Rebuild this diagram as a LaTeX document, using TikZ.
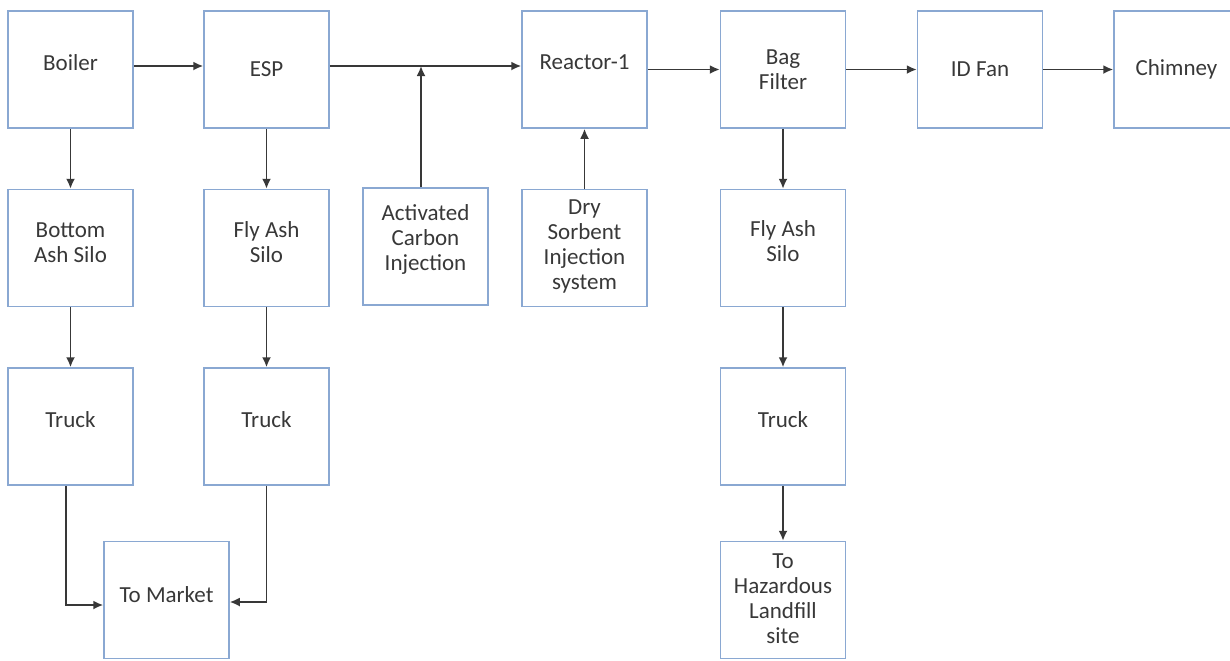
\documentclass[tikz,border=0pt]{standalone}
\usepackage{fontspec}
\setmainfont{Carlito}
\usetikzlibrary{arrows.meta,positioning}
\definecolor{boxblue}{HTML}{8AA8D2}
\definecolor{inkgrey}{HTML}{383838}
\tikzset{flowarrow/.style={draw=inkgrey,line width=.9pt,-{Latex[length=5pt,width=4.5pt]}}}

\begin{document}
\begin{tikzpicture}[x=.5pt,y=-.5pt,node distance=30pt and 30pt]

\tikzset{unitbox/.style={draw=boxblue,line width=.75pt,minimum width=62.5pt,minimum height=58.5pt,inner sep=0pt},
boxtext/.style={align=center,text=inkgrey,font=\fontsize{11.5}{12.5}\selectfont,inner sep=0pt}}

\useasboundingbox (0,0) rectangle (1230,660);

% Main gas path
\node[unitbox,label={[boxtext,yshift=3.5pt]center:Boiler}] (boiler) at (70.5,69.5) {};
\node[unitbox,label={[boxtext]center:ESP}] (esp) at (266.5,69.5) {};
\node[unitbox,label={[boxtext,yshift=3.5pt]center:Reactor-1}] (reactor) at (584.5,69.5) {};
\node[unitbox,label={[boxtext]center:Bag\\Filter}] (bagfilter) at (783,69.5) {};
\node[unitbox,label={[boxtext]center:ID Fan}] (idfan) at (980,69.5) {};
\node[unitbox,label={[boxtext]center:Chimney}] (chimney) at (1176.5,69.5) {};

% Silos and injection
\node[unitbox,below=of boiler,label={[boxtext,yshift=2.75pt]center:Bottom\\Ash Silo}] (bottomsilo) {};
\node[unitbox,below=of esp,label={[boxtext,yshift=2.75pt]center:Fly Ash\\Silo}] (espsilo) {};
\node[unitbox,label={[boxtext,yshift=3.75pt]center:Activated\\Carbon\\Injection}] (carbon) at (425.5,246.5) {};
\node[unitbox,below=of reactor,label={[boxtext,yshift=1pt]center:Dry\\Sorbent\\Injection\\system}] (sorbent) {};
\node[unitbox,below=of bagfilter,label={[boxtext,yshift=3.5pt]center:Fly Ash\\Silo}] (bagsilo) {};

% Trucks
\node[unitbox,below=of bottomsilo,label={[boxtext,yshift=3.5pt]center:Truck}] (truckA) {};
\node[unitbox,below=of espsilo,label={[boxtext,yshift=3.5pt]center:Truck}] (truckB) {};
\node[unitbox,below=of bagsilo,label={[boxtext,yshift=3.5pt]center:Truck}] (truckC) {};

% Destinations
\node[unitbox,label={[boxtext,yshift=2.75pt]center:To Market}] (market) at (166.5,600) {};
\node[unitbox,label={[boxtext,yshift=.5pt]center:To\\Hazardous\\Landfill\\site}] (landfill) at (783,600) {};

% Gas flow
\coordinate (espout) at ([yshift=1.75pt]esp.east);
\coordinate (carbontop) at ([xshift=-2.25pt]carbon.north);
\draw[flowarrow] ([yshift=1.75pt]boiler.east) -- ([yshift=1.75pt]esp.west);
\draw[flowarrow] (espout) -- ([yshift=1.75pt]reactor.west);
\draw[flowarrow] (carbontop) -- (carbontop |- espout);
\draw[flowarrow] (sorbent) -- (reactor);
\draw[flowarrow] (reactor) -- (bagfilter);
\draw[flowarrow] (bagfilter) -- (idfan);
\draw[flowarrow] (idfan) -- (chimney);

% Ash handling
\draw[flowarrow] (boiler) -- (bottomsilo);
\draw[flowarrow] (esp) -- (espsilo);
\draw[flowarrow] (bagfilter) -- (bagsilo);
\draw[flowarrow] (bottomsilo) -- (truckA);
\draw[flowarrow] (espsilo) -- (truckB);
\draw[flowarrow] (bagsilo) -- (truckC);
\draw[flowarrow] (truckC) -- (landfill);
\draw[flowarrow] ([xshift=-2.25pt]truckA.south) |- ([yshift=-2.5pt]market.west);
\draw[flowarrow] (truckB.south) |- ([yshift=-1pt]market.east);

\end{tikzpicture}
\end{document}
